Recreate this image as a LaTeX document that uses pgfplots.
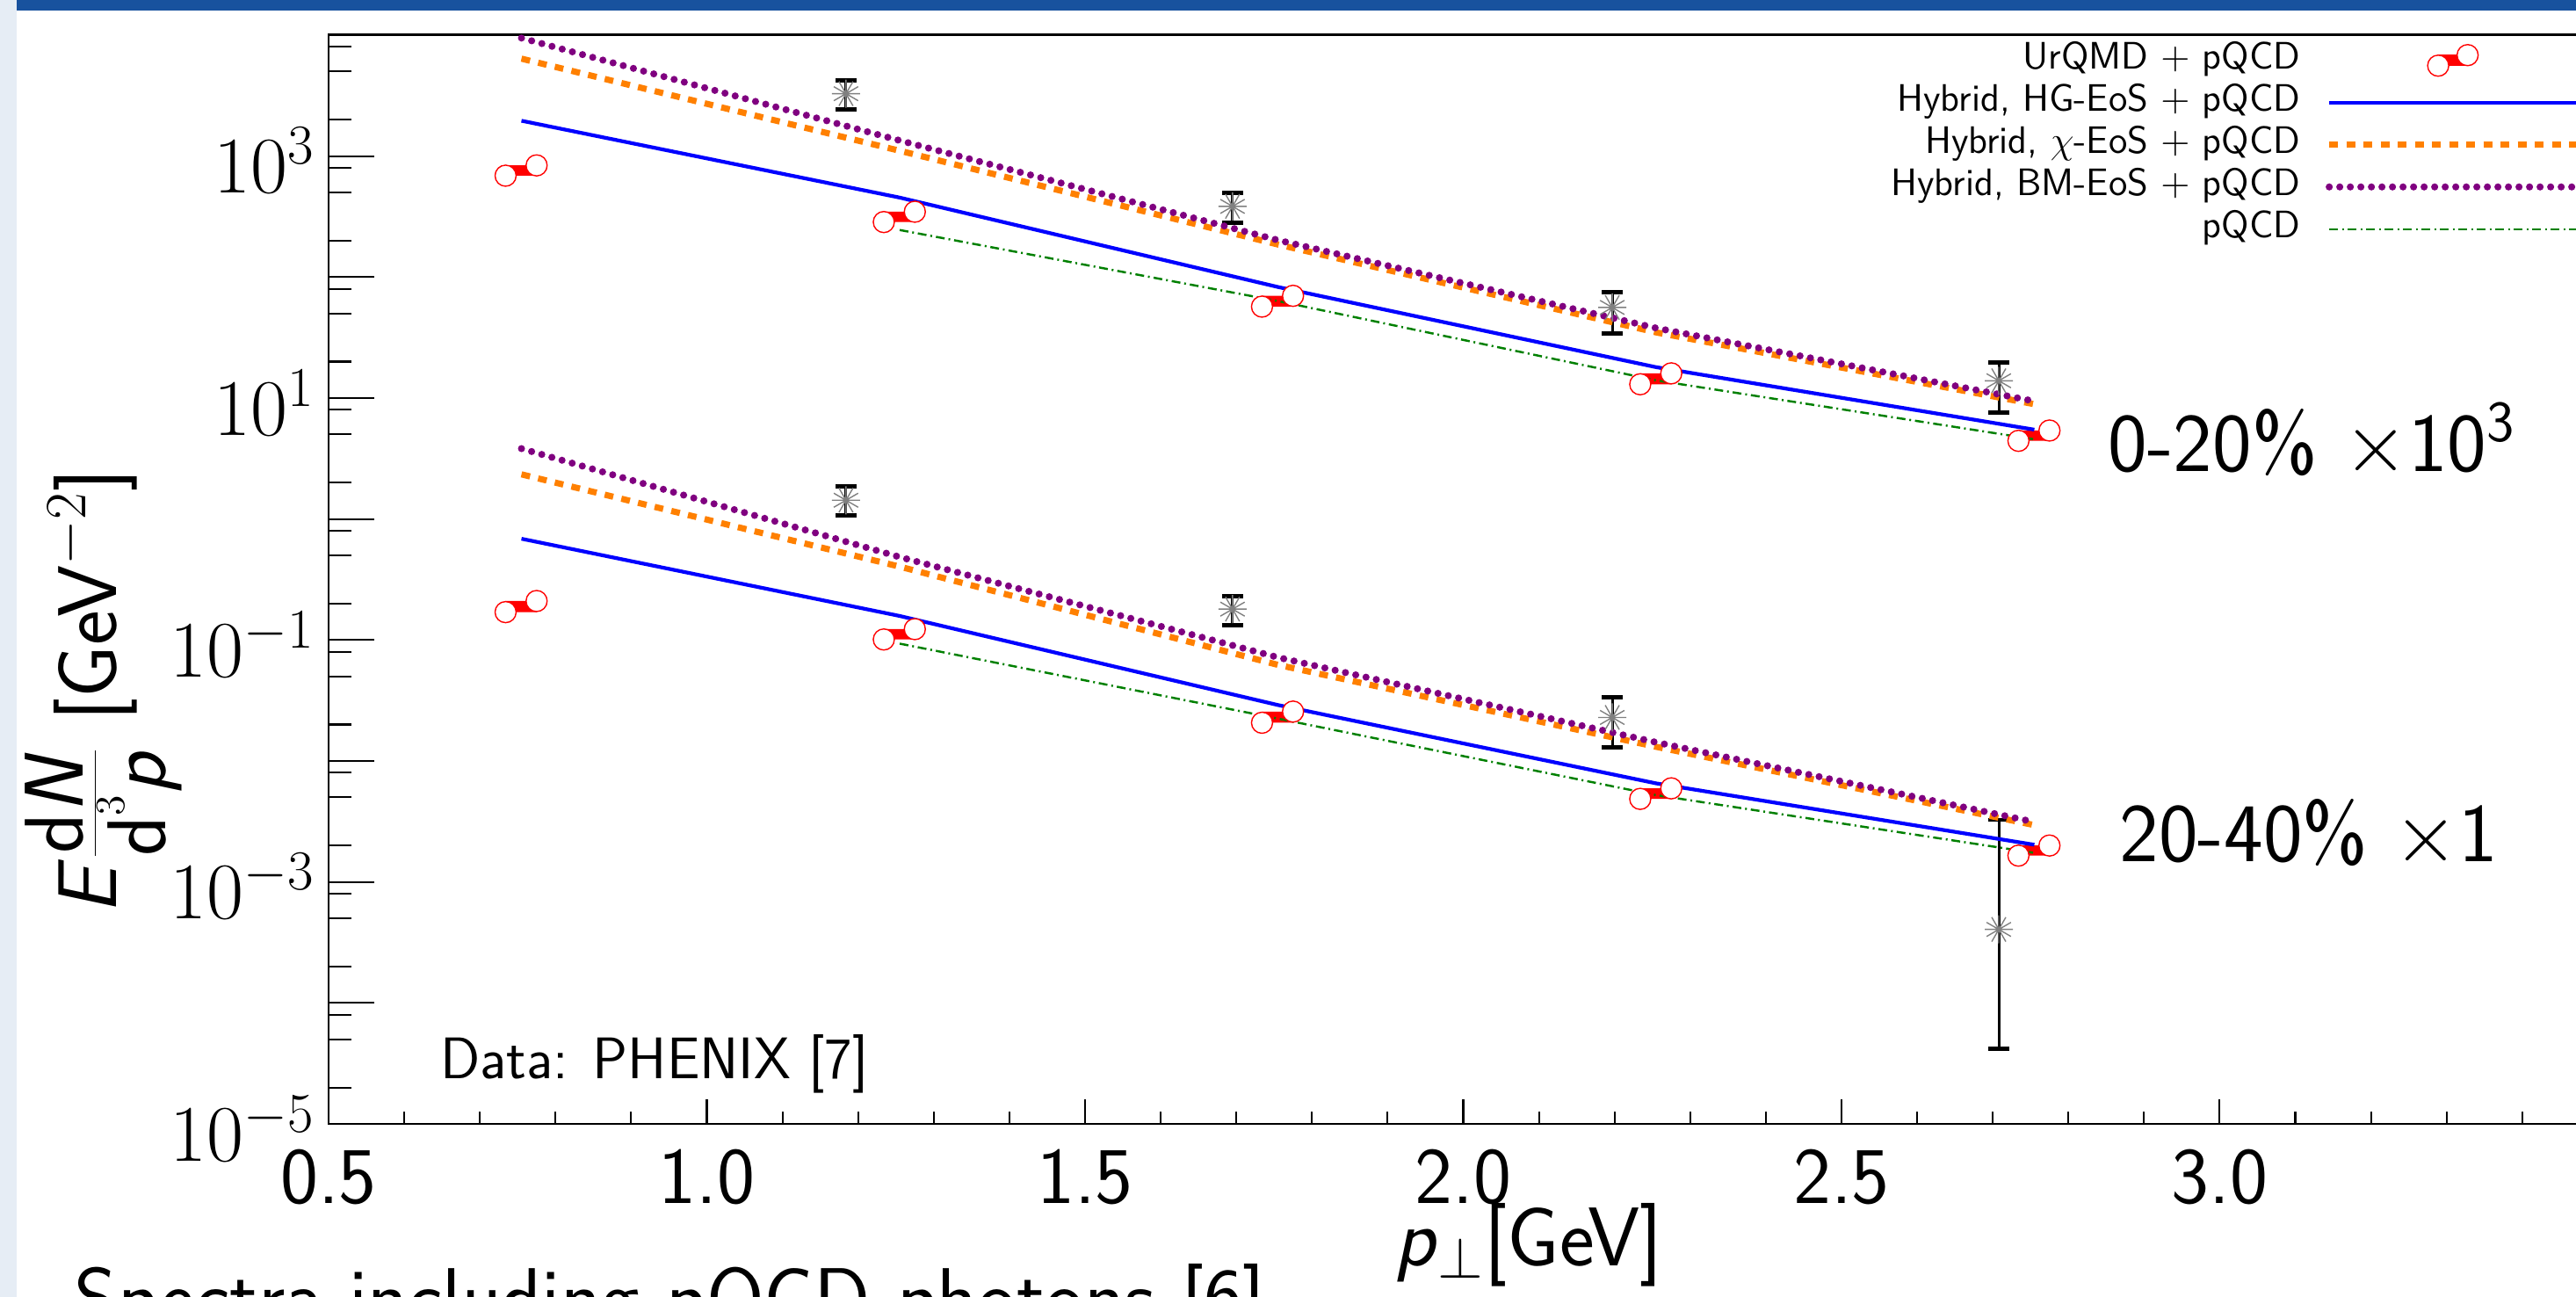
\documentclass[border=0pt]{standalone}
\usepackage{fix-cm}
\usepackage{pgfplots}
\usepackage{pgfplotstable}
\pgfplotsset{compat=1.18}
\renewcommand{\familydefault}{\sfdefault}

\definecolor{posterblue}{RGB}{24,82,158}
\definecolor{posterside}{RGB}{230,237,245}
\definecolor{rootorange}{RGB}{255,128,0}
\definecolor{rootpurple}{RGB}{128,0,128}
\definecolor{rootgreen}{RGB}{0,128,0}

\newcommand{\ticksize}{\fontsize{26}{30}\selectfont}
\newcommand{\labsize}{\fontsize{27}{32}\selectfont}
\newcommand{\legsize}{\fontsize{12.4}{15}\selectfont}
\newcommand{\txtsize}{\fontsize{19}{23}\selectfont}

% ROOT-like asterisk marker
\pgfdeclareplotmark{spoke}{%
  \pgfpathmoveto{\pgfpointpolar{0}{\pgfplotmarksize}}\pgfpathlineto{\pgfpointpolar{180}{\pgfplotmarksize}}%
  \pgfpathmoveto{\pgfpointpolar{30}{\pgfplotmarksize}}\pgfpathlineto{\pgfpointpolar{210}{\pgfplotmarksize}}%
  \pgfpathmoveto{\pgfpointpolar{60}{\pgfplotmarksize}}\pgfpathlineto{\pgfpointpolar{240}{\pgfplotmarksize}}%
  \pgfpathmoveto{\pgfpointpolar{90}{\pgfplotmarksize}}\pgfpathlineto{\pgfpointpolar{270}{\pgfplotmarksize}}%
  \pgfpathmoveto{\pgfpointpolar{120}{\pgfplotmarksize}}\pgfpathlineto{\pgfpointpolar{300}{\pgfplotmarksize}}%
  \pgfpathmoveto{\pgfpointpolar{150}{\pgfplotmarksize}}\pgfpathlineto{\pgfpointpolar{330}{\pgfplotmarksize}}%
  \pgfusepathqstroke}

% hybrid curves, 0-20% (x10^3)
\pgfplotstableread{
x     bm    chi   hg
0.755 9460  6390  1960
1.255 1346  1107  454
1.755 202   186   82.8
2.255 37.9  34.9  18.0
2.755 9.42  8.9   5.48
}\hybridup
\pgfplotstableread{
x     pqcd
1.255 245
1.755 63.4
2.255 14.0
2.755 4.56
}\pqcdup
% hybrid curves, 20-40%
\pgfplotstableread{
x     bm      chi     hg
0.755 3.82    2.34    0.687
1.255 0.485   0.404   0.158
1.755 0.0718  0.0623  0.029
2.255 0.01426 0.0131  0.00653
2.755 0.00313 0.00295 0.00203
}\hybridlo
\pgfplotstableread{
x     pqcd
1.255 0.0933
1.755 0.0224
2.255 0.00522
2.755 0.00174
}\pqcdlo

% UrQMD + pQCD, two ends of each band
\pgfplotstableread{
xl    yl      xr    yr
0.734 689     0.775 838
1.234 285     1.275 347
1.734 57      1.775 70
2.234 13.0    2.275 16.0
2.734 4.43    2.775 5.39
}\urqmdup
\pgfplotstableread{
xl    yl      xr    yr
0.734 0.170   0.775 0.210
1.234 0.101   1.275 0.123
1.734 0.0207  1.775 0.0256
2.234 0.00486 2.275 0.00594
2.734 0.00165 2.775 0.00200
}\urqmdlo

% PHENIX data
\pgfplotstableread{
x     y       ep      em
1.184 3281    936     866
1.695 384     115     101
2.197 56.1    19.3    22.1
2.708 13.9    5.9     6.3
}\phenixup
\pgfplotstableread{
x     y       ep       em
1.184 1.43    0.42     0.35
1.695 0.180   0.051    0.048
2.197 0.0229  0.0105   0.0100
2.708 4.05e-4 2.855e-3 3.63e-4
}\phenixlo

\begin{document}
\begin{tikzpicture}
\path[use as bounding box] (0,0) rectangle (29.32,14.76);
\clip (0,0) rectangle (29.32,14.76);
\fill[posterside] (0,0) rectangle (0.19,14.76);
\fill[posterblue] (0.19,14.64) rectangle (29.32,14.76);

\begin{axis}[
    at={(3.74cm,1.97cm)}, anchor=south west,
    scale only axis, width=26.69cm, height=12.39cm,
    xmin=0.5, xmax=3.6,
    ymode=log, ymin=1e-5, ymax=1e4,
    axis line style={line width=0.85pt},
    tick style={black, line width=0.6pt},
    tick align=inside, xtick pos=bottom, ytick pos=left,
    major tick length=0.52cm, minor tick length=0.26cm,
    xtick style={/pgfplots/major tick length=0.28cm, /pgfplots/minor tick length=0.14cm},
    xtick={0.5,1.0,1.5,2.0,2.5,3.0,3.5},
    xticklabels={0.5,1.0,1.5,2.0,2.5,3.0,},
    minor x tick num=4,
    ytick={1e-5,1e-4,1e-3,1e-2,1e-1,1,1e1,1e2,1e3,1e4},
    yticklabels={$10^{-5}$,,$10^{-3}$,,$10^{-1}$,,$10^{1}$,,$10^{3}$,},
    minor ytick={2e-5,5e-5,8e-5,2e-4,5e-4,8e-4,2e-3,5e-3,8e-3,2e-2,5e-2,8e-2,
                 0.2,0.5,0.8,2,5,8,20,50,80,200,500,800,2000,5000,8000},
    x tick label style={font=\ticksize, inner sep=0pt, anchor=north, yshift=-0.28cm},
    y tick label style={font=\ticksize, inner sep=0pt, anchor=east, xshift=-0.15cm, yshift=-0.05cm},
    xlabel={\textsl{p}$_{\perp}$[GeV]},
    xlabel style={font=\labsize, at={(axis description cs:0.5118,-0.130)}, anchor=base},
    ylabel={\textsl{E}$\frac{\mbox{d}\mbox{\textsl{N}}}{\mbox{d}^{3}\mbox{\textsl{p}}}$ [GeV$^{-2}$]},
    ylabel style={font=\labsize, at={(axis description cs:-0.0959,0.397)}, anchor=center},
    legend style={draw=none, fill=none, font=\legsize,
        at={(axis description cs:0.9861,0.9935)}, anchor=north east,
        inner xsep=0pt, inner ysep=0pt, row sep=0.08cm, column sep=0.29cm,
        nodes={inner sep=0pt, text height=0.3cm, text depth=0.1cm}},
    legend cell align=right, legend plot pos=right,
    legend image code/.code={\draw[#1] (0cm,0cm) -- (3.5cm,0cm);},
]

% legend entries
\addlegendimage{legend image code/.code={
    \fill[red] (1.24cm,-0.06cm) rectangle (1.575cm,0.06cm);
    \draw[red, fill=white, line width=0.4pt] (1.24cm,-0.06cm) circle (0.12cm);
    \draw[red, fill=white, line width=0.4pt] (1.575cm,0.06cm) circle (0.12cm);
    \path (0cm,0cm) (3.5cm,0cm);}}
\addlegendentry{UrQMD $+$ pQCD}
\addlegendimage{blue, line width=1.2pt}
\addlegendentry{Hybrid, HG-EoS $+$ pQCD}
\addlegendimage{rootorange, line width=2pt, dash pattern=on 0.1cm off 0.095cm}
\addlegendentry{Hybrid, $\chi$-EoS $+$ pQCD}
\addlegendimage{rootpurple, line width=2.3pt, line cap=round, dash pattern=on 0pt off 0.12cm}
\addlegendentry{Hybrid, BM-EoS $+$ pQCD}
\addlegendimage{rootgreen, line width=0.7pt, dash pattern=on 0.1cm off 0.045cm on 0.02cm off 0.045cm}
\addlegendentry{pQCD}

% UrQMD bands
\addplot[fill=red, draw=none, forget plot, unbounded coords=jump] coordinates {
    (0.734,689) (0.775,689) (0.775,838) (0.734,838) (0.734,689) (0.75,nan)
    (1.234,285) (1.275,285) (1.275,347) (1.234,347) (1.234,285) (1.25,nan)
    (1.734,57) (1.775,57) (1.775,70) (1.734,70) (1.734,57) (1.75,nan)
    (2.234,13.0) (2.275,13.0) (2.275,16.0) (2.234,16.0) (2.234,13.0) (2.25,nan)
    (2.734,4.43) (2.775,4.43) (2.775,5.39) (2.734,5.39) (2.734,4.43) (2.75,nan)
    (0.734,0.170) (0.775,0.170) (0.775,0.210) (0.734,0.210) (0.734,0.170) (0.75,nan)
    (1.234,0.101) (1.275,0.101) (1.275,0.123) (1.234,0.123) (1.234,0.101) (1.25,nan)
    (1.734,0.0207) (1.775,0.0207) (1.775,0.0256) (1.734,0.0256) (1.734,0.0207) (1.75,nan)
    (2.234,0.00486) (2.275,0.00486) (2.275,0.00594) (2.234,0.00594) (2.234,0.00486) (2.25,nan)
    (2.734,0.00165) (2.775,0.00165) (2.775,0.00200) (2.734,0.00200) (2.734,0.00165)
};
\addplot[only marks, mark=*, mark size=0.12cm, mark options={draw=red, fill=white, line width=0.4pt}, forget plot] table[x=xl, y=yl] {\urqmdup};
\addplot[only marks, mark=*, mark size=0.12cm, mark options={draw=red, fill=white, line width=0.4pt}, forget plot] table[x=xr, y=yr] {\urqmdup};
\addplot[only marks, mark=*, mark size=0.12cm, mark options={draw=red, fill=white, line width=0.4pt}, forget plot] table[x=xl, y=yl] {\urqmdlo};
\addplot[only marks, mark=*, mark size=0.12cm, mark options={draw=red, fill=white, line width=0.4pt}, forget plot] table[x=xr, y=yr] {\urqmdlo};

% PHENIX points
\addplot[black, only marks, mark=spoke, mark size=0.16cm, mark options={draw=gray, line width=0.4pt}, forget plot,
    error bars/.cd, y dir=both, y explicit,
    error bar style={black, line width=0.85pt},
    error mark options={rotate=90, mark size=0.12cm, line width=1.4pt, black}]
    table[x=x, y=y, y error plus=ep, y error minus=em] {\phenixup};
\addplot[black, only marks, mark=spoke, mark size=0.16cm, mark options={draw=gray, line width=0.4pt}, forget plot,
    error bars/.cd, y dir=both, y explicit,
    error bar style={black, line width=0.85pt},
    error mark options={rotate=90, mark size=0.12cm, line width=1.4pt, black}]
    table[x=x, y=y, y error plus=ep, y error minus=em] {\phenixlo};

% model curves
\addplot[rootgreen, line width=0.7pt, dash pattern=on 0.1cm off 0.045cm on 0.02cm off 0.045cm, forget plot] table[x=x, y=pqcd] {\pqcdup};
\addplot[rootgreen, line width=0.7pt, dash pattern=on 0.1cm off 0.045cm on 0.02cm off 0.045cm, forget plot] table[x=x, y=pqcd] {\pqcdlo};
\addplot[blue, line width=1.2pt, forget plot] table[x=x, y=hg] {\hybridup};
\addplot[blue, line width=1.2pt, forget plot] table[x=x, y=hg] {\hybridlo};
\addplot[rootorange, line width=2pt, dash pattern=on 0.1cm off 0.095cm, forget plot] table[x=x, y=chi] {\hybridup};
\addplot[rootorange, line width=2pt, dash pattern=on 0.1cm off 0.095cm, forget plot] table[x=x, y=chi] {\hybridlo};
\addplot[rootpurple, line width=2.3pt, line cap=round, dash pattern=on 0pt off 0.12cm, forget plot] table[x=x, y=bm] {\hybridup};
\addplot[rootpurple, line width=2.3pt, line cap=round, dash pattern=on 0pt off 0.12cm, forget plot] table[x=x, y=bm] {\hybridlo};

\node[font=\labsize, anchor=west, inner sep=0pt] at (axis description cs:0.7587,0.628) {0-20\% $\times$10\textsuperscript{3}};
\node[font=\labsize, anchor=west, inner sep=0pt] at (axis description cs:0.7636,0.266) {20-40\% $\times$1};
\node[font=\txtsize, anchor=base west, inner sep=0pt] at (axis description cs:0.0474,0.0412) {Data: PHENIX [7]};
\end{axis}

\node[font=\labsize, anchor=base west, inner sep=0pt] at (0.84,-0.34) {Spectra including pQCD photons [6]};
\end{tikzpicture}
\end{document}
